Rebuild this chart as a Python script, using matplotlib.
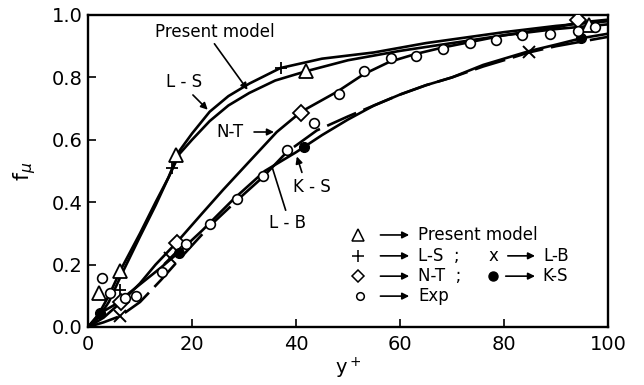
import matplotlib
matplotlib.use("Agg")
import matplotlib.pyplot as plt

plt.rcParams['font.family'] = ['DejaVu Sans']

# ---- model curves: f_mu versus y+ ----
pm_x = [0, 2, 4, 6.5, 10, 13, 15.5, 17.6, 20, 23.4, 27, 31, 36, 42, 50, 60, 70, 80, 90, 100]
pm_y = [0, 0.04, 0.10, 0.19, 0.30, 0.40, 0.48, 0.555, 0.60, 0.66, 0.71, 0.75, 0.79, 0.82,
        0.855, 0.885, 0.91, 0.935, 0.955, 0.97]

ls_x = [0, 2, 4, 6.5, 10, 13, 15.5, 17.6, 20, 23.4, 27, 31, 37, 45, 55, 65, 80, 90, 100]
ls_y = [0, 0.03, 0.08, 0.17, 0.29, 0.39, 0.48, 0.565, 0.62, 0.69, 0.74, 0.78, 0.83, 0.86,
        0.88, 0.91, 0.945, 0.965, 0.98]

nt_x = [0, 3, 6.4, 10, 13, 17, 22, 26, 31, 36.3, 41, 48, 53, 58, 63, 68, 74, 80, 86, 90, 94, 100]
nt_y = [0, 0.03, 0.08, 0.14, 0.20, 0.27, 0.365, 0.44, 0.53, 0.625, 0.69, 0.755, 0.81, 0.85,
        0.875, 0.895, 0.915, 0.935, 0.95, 0.96, 0.975, 0.985]

ks_x = [0, 2.4, 5, 8, 11, 14, 17.5, 22, 28, 34, 40, 45, 50, 55, 60, 65, 70, 76, 80, 85, 90, 95, 100]
ks_y = [0, 0.045, 0.07, 0.11, 0.15, 0.19, 0.24, 0.31, 0.41, 0.50, 0.56, 0.615, 0.665, 0.71,
        0.745, 0.775, 0.80, 0.84, 0.86, 0.885, 0.905, 0.926, 0.94]

lb_x = [0, 3, 6.2, 10, 14, 18, 23.5, 28.6, 33.6, 38.2, 44, 50, 55, 60, 65, 70, 76, 80, 84.8, 90, 95, 100]
lb_y = [0, 0.015, 0.035, 0.08, 0.15, 0.225, 0.325, 0.405, 0.48, 0.56, 0.63, 0.675, 0.71, 0.745,
        0.775, 0.80, 0.835, 0.855, 0.88, 0.90, 0.915, 0.93]

# ---- symbols ----
pm_mx = [2.2, 6.2, 16.9, 42, 96.3]
pm_my = [0.11, 0.18, 0.55, 0.82, 0.968]

ls_mx = [6.2, 16.2, 37.2, 83.5]
ls_my = [0.12, 0.51, 0.83, 0.935]

nt_mx = [6.4, 17.1, 41, 94.2]
nt_my = [0.08, 0.27, 0.686, 0.984]

lb_mx = [6.2, 15.8, 84.8]
lb_my = [0.035, 0.22, 0.88]

ks_mx = [2.4, 17.5, 41.6, 94.8]
ks_my = [0.045, 0.237, 0.577, 0.926]

exp_x = [2.7, 4.2, 7.1, 9.3, 14.2, 18.9, 23.5, 28.6, 33.6, 38.2, 43.4, 48.3, 53.1, 58.2,
         63.1, 68.3, 73.5, 78.5, 83.5, 88.8, 94.2, 97.5]
exp_y = [0.157, 0.11, 0.093, 0.10, 0.175, 0.265, 0.33, 0.41, 0.484, 0.567, 0.654, 0.747,
         0.82, 0.862, 0.869, 0.89, 0.91, 0.92, 0.935, 0.94, 0.95, 0.96]

x_ticks = [0, 20, 40, 60, 80, 100]
y_ticks = [0.0, 0.2, 0.4, 0.6, 0.8, 1.0]

fig = plt.figure(figsize=(6.44, 3.85), dpi=100)
ax = fig.add_axes([88 / 644, 58 / 385, 520 / 644, 312 / 385])

lw = 1.9
ax.plot(pm_x, pm_y, color='black', lw=lw, zorder=2)
ax.plot(ls_x, ls_y, color='black', lw=lw, zorder=2)
ax.plot(nt_x, nt_y, color='black', lw=lw, zorder=2)
ax.plot(ks_x, ks_y, color='black', lw=lw, zorder=2)
ax.plot(lb_x, lb_y, color='black', lw=lw, dashes=(12, 3), zorder=2)

ms_kw = dict(linestyle='none', color='black', zorder=4)
ax.plot(pm_mx, pm_my, marker='^', ms=10, mfc='white', mew=1.3, **ms_kw)
ax.plot(ls_mx, ls_my, marker='+', ms=9, mew=1.3, **ms_kw)
ax.plot(nt_mx, nt_my, marker='D', ms=8, mfc='white', mew=1.3, **ms_kw)
ax.plot(lb_mx, lb_my, marker='x', ms=8, mew=1.4, **ms_kw)
ax.plot(ks_mx, ks_my, marker='o', ms=7, mfc='black', **ms_kw)
ax.plot(exp_x, exp_y, marker='o', ms=7, mfc='white', mew=1.2, **ms_kw)

# curve labels
lbl = dict(fontsize=12, ha='center', va='center')
arr = dict(arrowstyle='-|>', color='black', lw=1.2, mutation_scale=10)
ax.text(24.4, 0.945, 'Present model', **lbl)
ax.annotate('', xy=(31, 0.753), xytext=(24.0, 0.915), arrowprops=arr)
ax.text(18.5, 0.785, 'L - S', **lbl)
ax.annotate('', xy=(23.4, 0.69), xytext=(19.8, 0.75), arrowprops=arr)
ax.text(27.3, 0.625, 'N-T', **lbl)
ax.annotate('', xy=(36.3, 0.625), xytext=(31.4, 0.625), arrowprops=arr)
ax.text(43.0, 0.45, 'K - S', **lbl)
ax.annotate('', xy=(40.0, 0.555), xytext=(41.3, 0.487), arrowprops=arr)
ax.text(38.3, 0.333, 'L - B', **lbl)
ax.plot([38.0, 35.4], [0.375, 0.513], color='black', lw=1.2)

# symbol key
key = dict(fontsize=12, ha='left', va='center')
rows = [0.295, 0.228, 0.163, 0.099]


def key_arrow(x0, x1, y):
    ax.annotate('', xy=(x1, y), xytext=(x0, y), arrowprops=arr)


kx_sym, kx_a0, kx_a1, kx_txt = 51.9, 55.7, 62.3, 63.5
ax.plot([kx_sym], [rows[0]], marker='^', ms=8, mfc='white', mew=1.1, **ms_kw)
key_arrow(kx_a0, kx_a1, rows[0])
ax.text(kx_txt, rows[0], 'Present model', **key)

ax.plot([kx_sym], [rows[1]], marker='+', ms=8, mew=1.1, **ms_kw)
key_arrow(kx_a0, kx_a1, rows[1])
ax.text(kx_txt, rows[1], 'L-S  ;', **key)
ax.text(77.0, rows[1], 'x', **key)
key_arrow(80.2, 86.5, rows[1])
ax.text(87.5, rows[1], 'L-B', **key)

ax.plot([kx_sym], [rows[2]], marker='D', ms=6.5, mfc='white', mew=1.1, **ms_kw)
key_arrow(kx_a0, kx_a1, rows[2])
ax.text(kx_txt, rows[2], 'N-T  ;', **key)
ax.plot([77.9], [rows[2]], marker='o', ms=6.5, mfc='black', **ms_kw)
key_arrow(79.8, 86.5, rows[2])
ax.text(87.3, rows[2], 'K-S', **key)

ax.plot([kx_sym + 0.5], [rows[3]], marker='o', ms=5.5, mfc='white', mew=1.1, **ms_kw)
key_arrow(kx_a0, kx_a1, rows[3])
ax.text(kx_txt, rows[3], 'Exp', **key)

ax.set_xlim(0, 100)
ax.set_ylim(0, 1.0)
ax.set_xticks(x_ticks)
ax.set_yticks(y_ticks)
ax.set_xticklabels([str(v) for v in x_ticks])
ax.set_yticklabels([f'{v:.1f}' for v in y_ticks])
ax.tick_params(direction='in', length=6, width=1.2, labelsize=14, pad=6)
ax.tick_params(axis='y', pad=4)
for s in ax.spines.values():
    s.set_linewidth(1.7)

ax.set_xlabel('y$^+$', fontsize=14, labelpad=1)
ax.set_ylabel('f$_\\mu$', fontsize=16, labelpad=10)

fig.savefig('out.png', dpi=100)
